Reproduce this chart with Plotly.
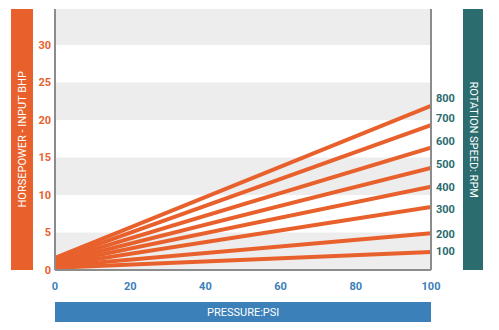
import plotly.graph_objects as go

pressure = [0, 100]
rpm_labels = ["800", "700", "600", "500", "400", "300", "200", "100"]
bhp_start = [1.6, 1.4, 1.2, 1.0, 0.8, 0.6, 0.5, 0.3]
bhp_end = [21.9, 19.3, 16.3, 13.6, 11.1, 8.4, 4.9, 2.4]
y_ticks = [0, 5, 10, 15, 20, 25, 30]
x_ticks = [0, 20, 40, 60, 80, 100]
band_edges = [(0, 5), (10, 15), (20, 25), (30, 35)]

ORANGE = "#e8612c"
TEAL = "#2b6c6f"
BLUE = "#3b80b8"
BAND = "#ededee"
BORDER = "#8c8c8c"
FONT = "Roboto"

fig = go.Figure()
for lbl, s, e in zip(rpm_labels, bhp_start, bhp_end):
    fig.add_trace(go.Scatter(x=pressure, y=[s, e], mode="lines",
                             line=dict(color=ORANGE, width=4), name=lbl,
                             showlegend=False, hoverinfo="skip"))

shapes = []
for y0, y1 in band_edges:
    shapes.append(dict(type="rect", xref="paper", yref="y", x0=0, x1=1, y0=y0, y1=min(y1, 34.8),
                       fillcolor=BAND, line=dict(width=0), layer="below"))
# borders: left, bottom, right
for x0, x1, y0, y1 in [(0, 0, 0, 1), (0, 1, 0, 0), (1, 1, 0, 1)]:
    shapes.append(dict(type="line", xref="paper", yref="paper", x0=x0, x1=x1, y0=y0, y1=y1,
                       line=dict(color=BORDER, width=2), layer="above"))
# left orange bar
shapes.append(dict(type="rect", xref="paper", yref="paper", xsizemode="pixel", xanchor=0,
                   x0=-44, x1=-22, y0=0, y1=1, fillcolor=ORANGE, line=dict(width=0)))
# right teal bar
shapes.append(dict(type="rect", xref="paper", yref="paper", xsizemode="pixel", xanchor=1,
                   x0=32, x1=52, y0=0, y1=1, fillcolor=TEAL, line=dict(width=0)))
# bottom blue bar
shapes.append(dict(type="rect", xref="paper", yref="paper", ysizemode="pixel", yanchor=0,
                   x0=0, x1=1, y0=-32, y1=-52, fillcolor=BLUE, line=dict(width=0)))

label_shift = [7, 7, 6, 4, -1, -2, -1, 1]
annotations = []
for lbl, e, sh in zip(rpm_labels, bhp_end, label_shift):
    annotations.append(dict(x=1, xref="paper", y=e, yref="y", text=lbl, showarrow=False,
                            xanchor="left", xshift=3, yshift=sh,
                            font=dict(family=FONT, size=11, color=TEAL, weight="bold")))
annotations.append(dict(x=0, xref="paper", y=0.5, yref="paper", text="HORSEPOWER - INPUT BHP",
                        textangle=-90, showarrow=False, xshift=-33,
                        xanchor="center", yanchor="middle",
                        font=dict(family=FONT, size=11, color="white")))
annotations.append(dict(x=1, xref="paper", y=0.5, yref="paper", text="ROTATION SPEED: RPM",
                        textangle=90, showarrow=False, xshift=42,
                        xanchor="center", yanchor="middle",
                        font=dict(family=FONT, size=11, color="white")))
annotations.append(dict(x=0.5, xref="paper", y=0, yref="paper", text="PRESSURE:PSI",
                        showarrow=False, yshift=-42, xanchor="center", yanchor="middle",
                        font=dict(family=FONT, size=11, color="white")))

fig.update_layout(
    width=499, height=330,
    margin=dict(l=55, r=68, t=9, b=60),
    plot_bgcolor="white", paper_bgcolor="white",
    shapes=shapes, annotations=annotations,
    xaxis=dict(range=[0, 100], tickvals=x_ticks, showgrid=False, zeroline=False,
               showline=False, ticks="", ticklabelstandoff=8,
               tickfont=dict(family=FONT, size=11, color=BLUE, weight="bold")),
    yaxis=dict(range=[0, 34.8], tickvals=y_ticks, showgrid=False, zeroline=False,
               showline=False, ticks="", ticklabelstandoff=3,
               tickfont=dict(family=FONT, size=11, color=ORANGE, weight="bold")),
)

fig.write_html("out.html")
